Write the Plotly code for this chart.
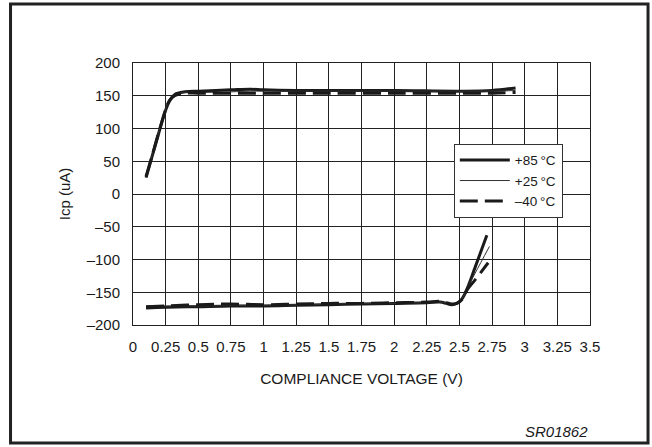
import plotly.graph_objects as go

# ---- data ----
x_up = [0.10, 0.15, 0.20, 0.25, 0.28, 0.32, 0.40, 0.50, 0.75, 0.90, 1.00, 1.25, 1.50, 2.00, 2.50, 2.75, 2.93]
y_up_85 = [25, 60, 95, 128, 142, 152, 156, 157, 159, 160, 159, 158, 158, 158, 157, 158, 162]
y_up_25 = [28, 62, 97, 130, 143, 151, 155, 155, 156, 157, 157, 157, 157, 157, 157, 157, 158]
y_up_m40 = [27, 61, 96, 129, 143, 150, 154, 154, 154, 154, 154, 154, 154, 154, 154, 154, 155]

x_lo_85 = [0.10, 0.25, 0.50, 0.75, 1.00, 1.25, 1.50, 1.75, 2.00, 2.25, 2.35, 2.40, 2.44, 2.48, 2.52, 2.56, 2.62, 2.71]
y_lo_85 = [-174, -173, -172, -171, -171, -170, -169, -168, -167, -166, -165, -167, -169, -167, -160, -144, -112, -63]
x_lo_25 = [0.10, 0.25, 0.50, 0.75, 1.00, 1.25, 1.50, 1.75, 2.00, 2.25, 2.35, 2.40, 2.44, 2.48, 2.52, 2.56, 2.62, 2.73]
y_lo_25 = [-171, -171, -171, -170, -170, -169, -168, -167, -167, -166, -165, -166, -168, -167, -160, -144, -121, -80]
x_lo_m40 = [0.10, 0.25, 0.50, 0.75, 1.00, 1.25, 1.50, 1.75, 2.00, 2.25, 2.35, 2.40, 2.44, 2.48, 2.52, 2.56, 2.62, 2.72]
y_lo_m40 = [-172, -171, -169, -168, -169, -168, -167, -167, -166, -165, -164, -166, -168, -167, -161, -146, -131, -105]

x_ticks = [0, 0.25, 0.5, 0.75, 1, 1.25, 1.5, 1.75, 2, 2.25, 2.5, 2.75, 3, 3.25, 3.5]
x_tick_text = ["0", "0.25", "0.5", "0.75", "1", "1.25", "1.5", "1.75", "2", "2.25", "2.5", "2.75", "3", "3.25", "3.5"]
y_ticks = [-200, -150, -100, -50, 0, 50, 100, 150, 200]
y_tick_text = ["–200", "–150", "–100", "–50", "0", "50", "100", "150", "200"]

series = [
    ("+85\u2009°C", x_up, y_up_85, x_lo_85, y_lo_85, dict(color="#1a1a1a", width=3, dash="solid")),
    ("+25\u2009°C", x_up, y_up_25, x_lo_25, y_lo_25, dict(color="#333333", width=1, dash="solid")),
    ("–40\u2009°C", x_up, y_up_m40, x_lo_m40, y_lo_m40, dict(color="#1a1a1a", width=3, dash="18px,7px")),
]

fig = go.Figure()
for name, xu, yu, xl, yl, line in series:
    fig.add_trace(go.Scatter(x=xu + [None] + xl, y=yu + [None] + yl, mode="lines",
                             name=name, line=line, connectgaps=False,
                             line_shape="spline"))

FONT = "Liberation Sans, Arial, sans-serif"

fig.update_layout(
    width=652, height=447,
    margin=dict(l=133, r=62, t=63, b=122),
    paper_bgcolor="white", plot_bgcolor="white",
    font=dict(family=FONT, size=15, color="#1a1a1a"),
    showlegend=True,
    legend=dict(x=0.702, y=0.692, xanchor="left", yanchor="top",
                bgcolor="white", bordercolor="#333333", borderwidth=1,
                font=dict(size=13.5), itemwidth=50, tracegroupgap=0,
                indentation=0),
    xaxis=dict(range=[0, 3.5], tickvals=x_ticks, ticktext=x_tick_text,
               showgrid=True, gridcolor="#222222", gridwidth=1,
               showline=True, linecolor="#222222", linewidth=1, mirror=True,
               zeroline=False, ticks="", ticklabelstandoff=8,
               title=dict(text="COMPLIANCE VOLTAGE (V)", standoff=19,
                          font=dict(size=15.5))),
    yaxis=dict(range=[-200, 200], tickvals=y_ticks, ticktext=y_tick_text,
               showgrid=True, gridcolor="#222222", gridwidth=1,
               showline=True, linecolor="#222222", linewidth=1, mirror=True,
               zeroline=False, ticks="", ticklabelstandoff=9,
               title=dict(text="Icp (uA)", standoff=12, font=dict(size=15))),
    shapes=[dict(type="rect", xref="paper", yref="paper",
                 x0=-0.268, x1=1.127, y0=-0.450, y1=1.225,
                 line=dict(color="#222222", width=3), fillcolor="rgba(0,0,0,0)",
                 layer="below")],
    annotations=[dict(text="<i>SR01862</i>", xref="paper", yref="paper",
                      x=1.0, y=-0.405, xanchor="right", yanchor="middle",
                      showarrow=False, font=dict(size=15, family=FONT))],
)

# remove the default 8px body margin so the figure fills the window exactly
fig.write_html("out.html",
               config={"displayModeBar": False},
               post_script="document.body.style.margin='0';document.body.style.overflow='hidden';")
